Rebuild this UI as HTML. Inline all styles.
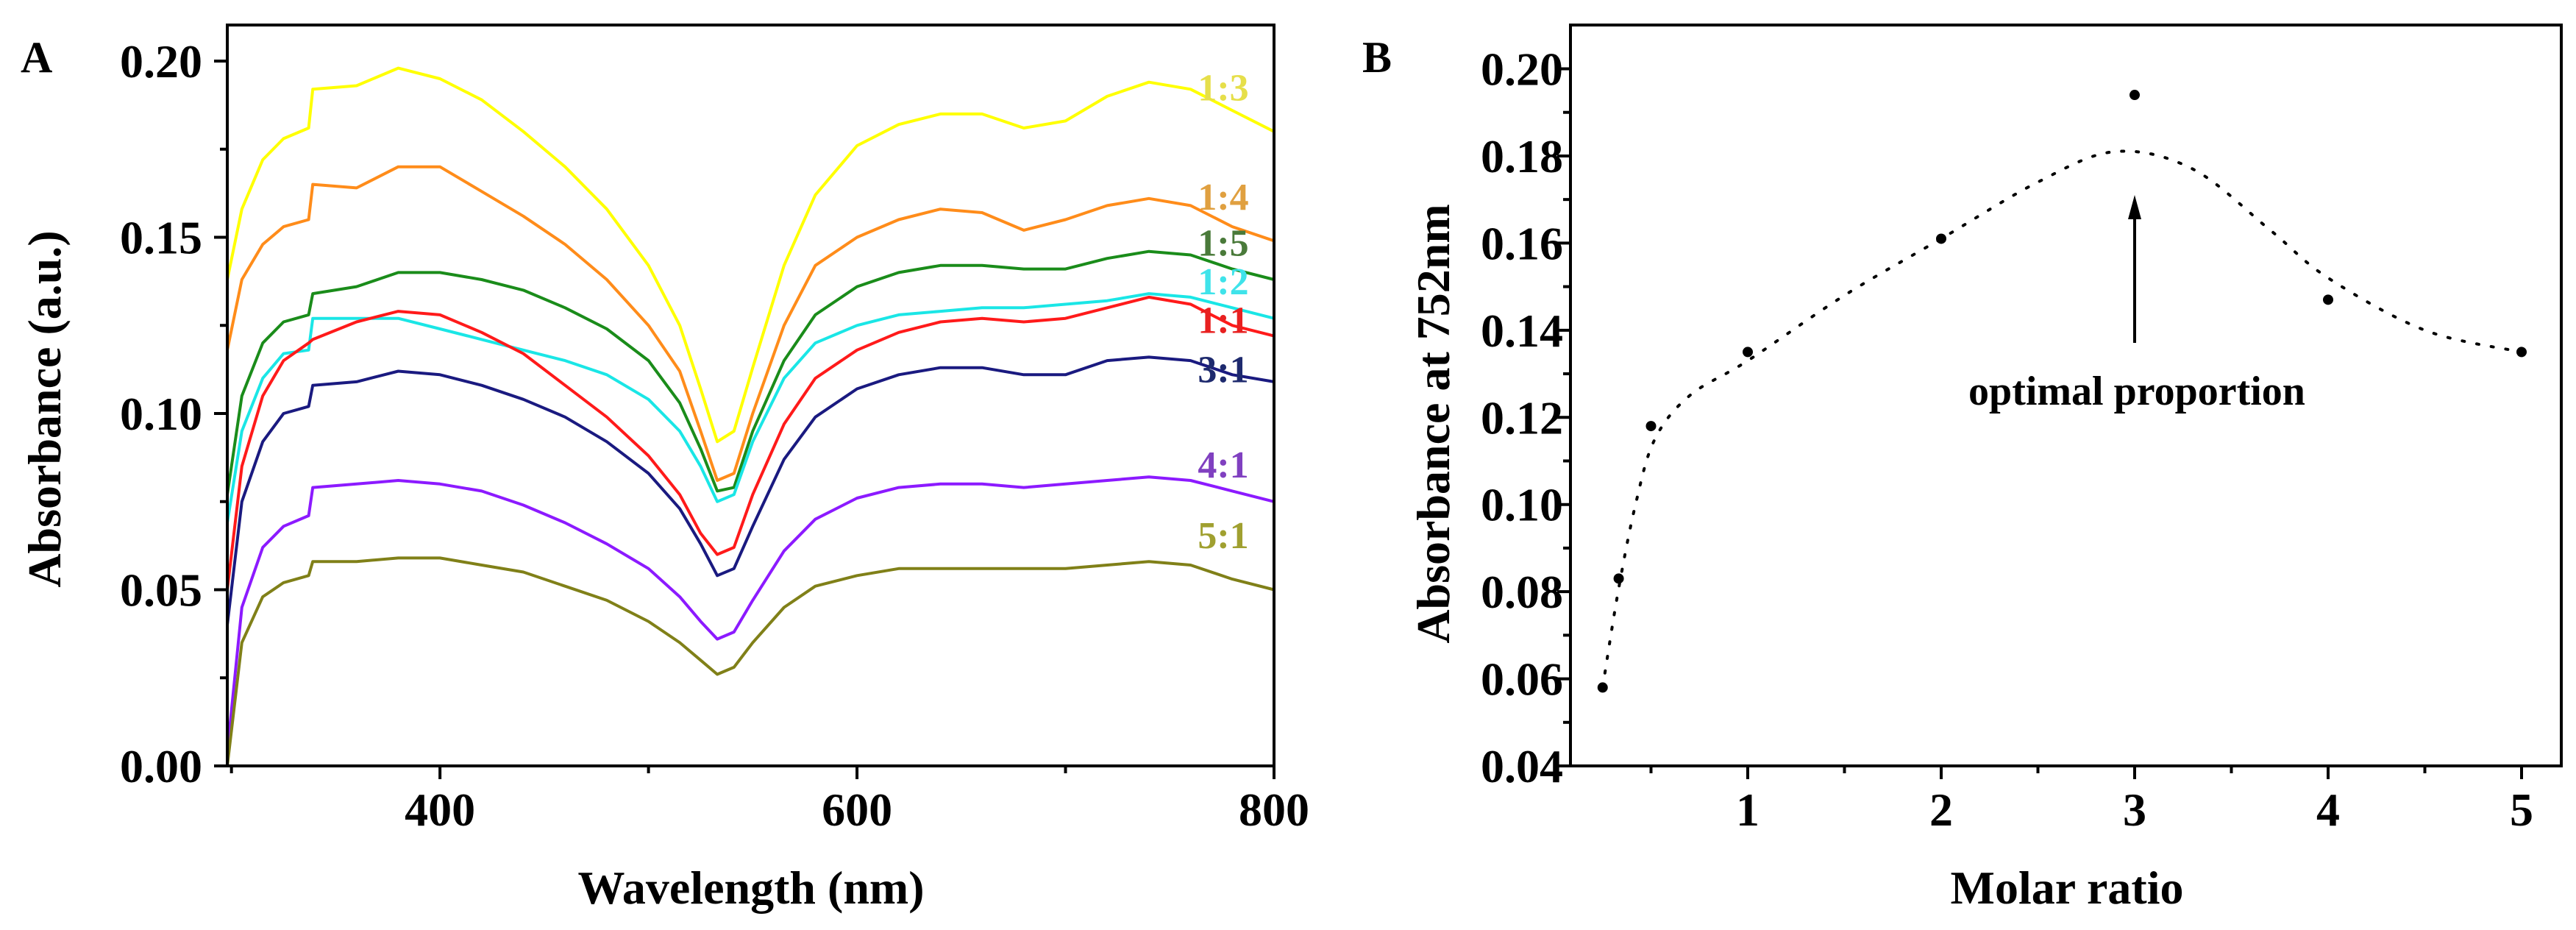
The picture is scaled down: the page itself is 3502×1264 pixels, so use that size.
<!DOCTYPE html>
<html><head><meta charset="utf-8"><style>
html,body{margin:0;padding:0;background:#fff;}
svg{display:block;font-family:"Liberation Serif",serif;font-weight:bold;}
</style></head><body>
<svg id="fig" width="3502" height="1264" viewBox="0 0 3502 1264" xmlns="http://www.w3.org/2000/svg">
<rect width="3502" height="1264" fill="#fff"/>
<g id="pa"></g>
<g id="pb"></g>
</svg>
<script>
const wavelengths=[298,305,315,325,337,339,360,380,400,420,440,460,480,500,515,525,533,541,550,565,580,600,620,640,660,680,700,720,740,760,780,800];
const s13=[.138,.158,.172,.178,.181,.192,.193,.198,.195,.189,.180,.170,.158,.142,.125,.107,.092,.095,.113,.142,.162,.176,.182,.185,.185,.181,.183,.190,.194,.192,.186,.180];
const s14=[.118,.138,.148,.153,.155,.165,.164,.170,.170,.163,.156,.148,.138,.125,.112,.095,.081,.083,.100,.125,.142,.150,.155,.158,.157,.152,.155,.159,.161,.159,.153,.149];
const s15=[.077,.105,.120,.126,.128,.134,.136,.140,.140,.138,.135,.130,.124,.115,.103,.090,.078,.079,.095,.115,.128,.136,.140,.142,.142,.141,.141,.144,.146,.145,.141,.138];
const s12=[.069,.095,.110,.117,.118,.127,.127,.127,.124,.121,.118,.115,.111,.104,.095,.085,.075,.077,.092,.110,.120,.125,.128,.129,.130,.130,.131,.132,.134,.133,.130,.127];
const s11=[.050,.085,.105,.115,.120,.121,.126,.129,.128,.123,.117,.108,.099,.088,.077,.066,.060,.062,.077,.097,.110,.118,.123,.126,.127,.126,.127,.130,.133,.131,.125,.122];
const s31=[.040,.075,.092,.100,.102,.108,.109,.112,.111,.108,.104,.099,.092,.083,.073,.063,.054,.056,.068,.087,.099,.107,.111,.113,.113,.111,.111,.115,.116,.115,.111,.109];
const s41=[.004,.045,.062,.068,.071,.079,.080,.081,.080,.078,.074,.069,.063,.056,.048,.041,.036,.038,.047,.061,.070,.076,.079,.080,.080,.079,.080,.081,.082,.081,.078,.075];
const s51=[0,.035,.048,.052,.054,.058,.058,.059,.059,.057,.055,.051,.047,.041,.035,.030,.026,.028,.035,.045,.051,.054,.056,.056,.056,.056,.056,.057,.058,.057,.053,.050];
const seriesNames=["1:3","1:4","1:5","1:2","1:1","3:1","4:1","5:1"];
const seriesData=[s13,s14,s15,s12,s11,s31,s41,s51];
const lineColors=["#ffff00","#ff8c1a","#1a8c1a","#1ae6e6","#ff1a1a","#1a1a80","#8c1aff","#808018"];
const labelColors=["#e6df4a","#e0a040","#4a7a3a","#3fe3ea","#e82020","#1e2a6e","#8040c0","#a0a030"];
const labelY=[.193,.162,.149,.138,.127,.113,.086,.066];
const aXTicks=[400,600,800];
const aYTicks=[0,0.05,0.10,0.15,0.20];

const ratios=[0.25,0.333,0.5,1,2,3,4,5];
const absorb=[0.058,0.083,0.118,0.135,0.161,0.194,0.147,0.135];
const fitX=[0.25,0.33,0.42,0.52,0.7,1,1.5,2,2.5,2.9,3.3,3.7,4,4.5,5];
const fitY=[0.058,0.080,0.100,0.115,0.125,0.133,0.148,0.161,0.174,0.181,0.177,0.163,0.152,0.140,0.135];
const bXTicks=[1,2,3,4,5];
const bYTicks=[0.04,0.06,0.08,0.10,0.12,0.14,0.16,0.18,0.20];

const NS="http://www.w3.org/2000/svg";
function mk(parent,tag,attrs,text){const e=document.createElementNS(NS,tag);for(const k in attrs)e.setAttribute(k,attrs[k]);if(text!==undefined)e.textContent=text;parent.appendChild(e);return e;}

// Panel A
const A=document.getElementById('pa');
const aL=309,aR=1732,aT=34,aB=1041;
const ax=v=>aL+(v-298)*(aR-aL)/(800-298);
const ay=v=>aB-(v-0)*(aB-83)/0.20;
for(let i=0;i<seriesData.length;i++){
  let d=seriesData[i].map((v,j)=>(j?'L':'M')+ax(wavelengths[j]).toFixed(1)+','+ay(v).toFixed(1)).join(' ');
  const p=mk(A,'path',{d:d,fill:'none',stroke:lineColors[i],'stroke-width':4,'stroke-linejoin':'round'});
  
  
  const t=mk(A,'text',{x:1663,y:ay(labelY[i])+20,'text-anchor':'middle','font-size':52,fill:labelColors[i]},seriesNames[i]);
  
  
}
const fa=mk(A,'rect',{x:aL,y:aT,width:aR-aL,height:aB-aT,fill:'none',stroke:'#000','stroke-width':4});


for(const v of aXTicks){
  mk(A,'line',{x1:ax(v),x2:ax(v),y1:aB,y2:aB+18,stroke:'#000','stroke-width':4});
  const t=mk(A,'text',{x:ax(v),y:1122,'text-anchor':'middle','font-size':64},String(v));
  
  
}
for(const v of [300,500,700]) mk(A,'line',{x1:ax(v),x2:ax(v),y1:aB,y2:aB+10,stroke:'#000','stroke-width':4});
for(const v of aYTicks){
  mk(A,'line',{x1:aL-18,x2:aL,y1:ay(v),y2:ay(v),stroke:'#000','stroke-width':4});
  const t=mk(A,'text',{x:275,y:ay(v)+22,'text-anchor':'end','font-size':64},v.toFixed(2));
  
  
}
for(const v of [0.025,0.075,0.125,0.175]) mk(A,'line',{x1:aL-10,x2:aL,y1:ay(v),y2:ay(v),stroke:'#000','stroke-width':4});
let t;
t=mk(A,'text',{x:1021,y:1228,'text-anchor':'middle','font-size':64},'Wavelength (nm)');

t=mk(A,'text',{x:0,y:0,'text-anchor':'middle','font-size':64,transform:'translate(82,556) rotate(-90)'},'Absorbance (a.u.)');

t=mk(A,'text',{x:28,y:98,'font-size':60},'A');


// Panel B
const B=document.getElementById('pb');
const bL=2135,bR=3482,bT=34,bB=1041;
const bx=v=>2113+v*263;
const by=v=>bB-(v-0.04)*(bB-93.5)/0.16;
const fa2=mk(B,'rect',{x:bL,y:bT,width:bR-bL,height:bB-bT,fill:'none',stroke:'#000','stroke-width':4});


for(const v of bXTicks){
  mk(B,'line',{x1:bx(v),x2:bx(v),y1:bB,y2:bB+18,stroke:'#000','stroke-width':4});
  const tt=mk(B,'text',{x:bx(v),y:1122,'text-anchor':'middle','font-size':64},String(v));
  
  
}
for(const v of [0.5,1.5,2.5,3.5,4.5]) mk(B,'line',{x1:bx(v),x2:bx(v),y1:bB,y2:bB+10,stroke:'#000','stroke-width':4});
for(const v of bYTicks){
  mk(B,'line',{x1:bL-18,x2:bL,y1:by(v),y2:by(v),stroke:'#000','stroke-width':4});
  const tt=mk(B,'text',{x:2125,y:by(v)+22,'text-anchor':'end','font-size':64},v.toFixed(2));
  
  
}
for(let v=0.05;v<0.2;v+=0.02) mk(B,'line',{x1:bL-10,x2:bL,y1:by(v),y2:by(v),stroke:'#000','stroke-width':4});
// fitted dotted curve (Catmull-Rom)
let pts=fitX.map((x,i)=>[bx(x),by(fitY[i])]);
let d='M'+pts[0][0]+','+pts[0][1];
for(let i=0;i<pts.length-1;i++){
  const p0=pts[Math.max(0,i-1)],p1=pts[i],p2=pts[i+1],p3=pts[Math.min(pts.length-1,i+2)];
  d+=' C'+(p1[0]+(p2[0]-p0[0])/6)+','+(p1[1]+(p2[1]-p0[1])/6)+' '+(p2[0]-(p3[0]-p1[0])/6)+','+(p2[1]-(p3[1]-p1[1])/6)+' '+p2[0]+','+p2[1];
}
const fc=mk(B,'path',{d:d,fill:'none',stroke:'#000','stroke-width':4,'stroke-dasharray':'3 17','stroke-linecap':'round'});


for(let i=0;i<ratios.length;i++){
  const c=mk(B,'circle',{cx:bx(ratios[i]),cy:by(absorb[i]),r:7,fill:'#000'});
  
  
}
const ar=mk(B,'g',{});


mk(ar,'line',{x1:bx(3),x2:bx(3),y1:466,y2:285,stroke:'#000','stroke-width':4});
mk(ar,'polygon',{points:(bx(3)-9)+',298 '+bx(3)+',265 '+(bx(3)+9)+',298',fill:'#000'});
t=mk(B,'text',{x:2905,y:550,'text-anchor':'middle','font-size':56},'optimal proportion');

t=mk(B,'text',{x:2810,y:1228,'text-anchor':'middle','font-size':64},'Molar ratio');

t=mk(B,'text',{x:0,y:0,'text-anchor':'middle','font-size':64,transform:'translate(1970,576) rotate(-90)'},'Absorbance at 752nm');

t=mk(B,'text',{x:1852,y:98,'font-size':60},'B');

</script>
</body></html>
